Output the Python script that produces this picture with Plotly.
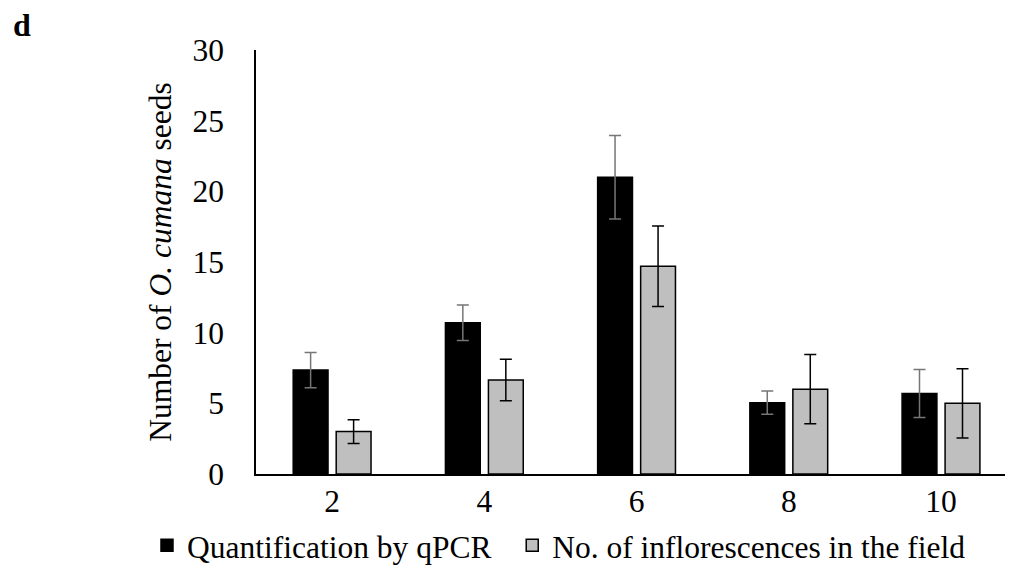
import plotly.graph_objects as go

categories = ["2", "4", "6", "8", "10"]
qpcr = [7.35, 10.7, 21.0, 5.05, 5.7]
qpcr_err = [1.25, 1.25, 2.95, 0.82, 1.7]
field = [3.0, 6.65, 14.7, 6.0, 5.0]
field_err = [0.84, 1.47, 2.85, 2.45, 2.45]
y_ticks = [0, 5, 10, 15, 20, 25, 30]
series_names = ["Quantification by qPCR", "No. of inflorescences in the field"]

FONT = "Liberation Serif"
FS = 31.5

fig = go.Figure()
fig.add_trace(go.Bar(
    x=categories, y=qpcr, name=series_names[0] + "\u00a0\u00a0",
    marker=dict(color="#000000", line=dict(color="#000000", width=1.5)),
    error_y=dict(type="data", array=qpcr_err, visible=True,
                 color="#767676", thickness=1.5, width=6),
))
fig.add_trace(go.Bar(
    x=categories, y=field, name=series_names[1],
    marker=dict(color="#bfbfbf", line=dict(color="#000000", width=1.5)),
    error_y=dict(type="data", array=field_err, visible=True,
                 color="#000000", thickness=1.5, width=6),
))

fig.update_layout(
    width=1005, height=569,
    margin=dict(l=248, r=0, t=42, b=103, autoexpand=False),
    paper_bgcolor="white", plot_bgcolor="white",
    barmode="group", bargap=0.435, bargroupgap=0.19,
    font=dict(family=FONT, size=FS, color="#000000"),
    showlegend=True,
    legend=dict(orientation="h", x=-0.144, xanchor="left", y=-0.168, yanchor="middle",
                font=dict(family=FONT, size=FS), itemwidth=30, tracegroupgap=0),
    xaxis=dict(type="category", range=[-0.5, 4.473], showline=True, linecolor="#000000",
               linewidth=1.5, ticks="", showgrid=False, zeroline=False,
               tickfont=dict(family=FONT, size=FS), ticklabelstandoff=-2),
    yaxis=dict(range=[0, 30], tickvals=y_ticks, showline=True, linecolor="#000000",
               linewidth=1.5, ticks="", showgrid=False, zeroline=False,
               tickfont=dict(family=FONT, size=FS), ticklabelstandoff=24,
               title=dict(text="Number of <i>O. cumana</i> seeds",
                          font=dict(family=FONT, size=FS), standoff=11)),
    annotations=[dict(text="<b>d</b>", xref="paper", yref="paper", x=-0.309, y=1.059,
                      xanchor="center", yanchor="middle", showarrow=False,
                      font=dict(family=FONT, size=32))],
)

fig.write_html("out.html")
